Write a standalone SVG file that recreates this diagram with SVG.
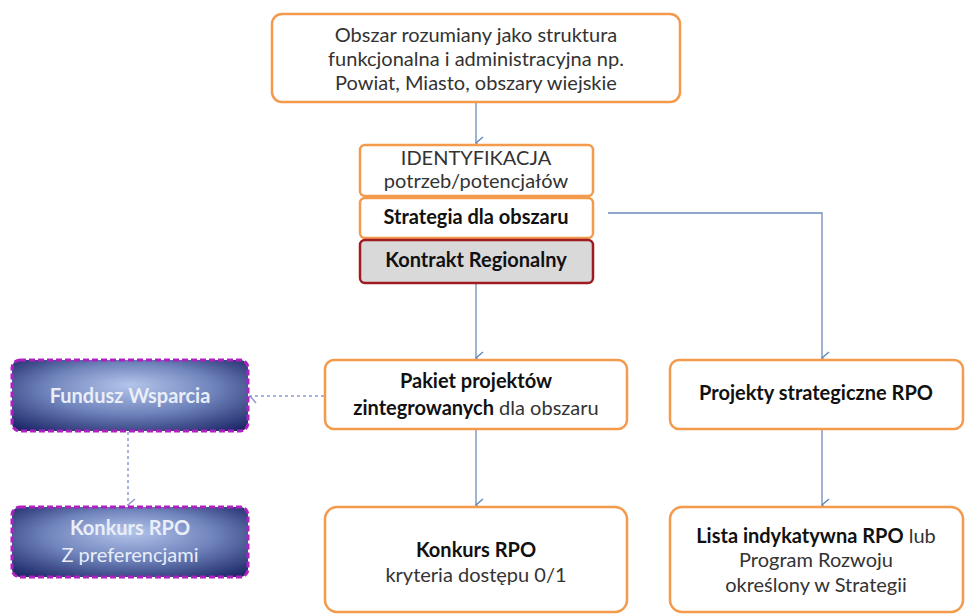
<svg xmlns="http://www.w3.org/2000/svg" width="965" height="615" viewBox="0 0 965 615">
<defs>
<style>
.box{fill:#fff;stroke:#f39a4c;stroke-width:2.5}
.kr{fill:#d9d9d9;stroke:#9e1b22;stroke-width:2.5}
.fw{fill:url(#g);stroke:#b020c0;stroke-width:3;stroke-dasharray:6,3}
.t{font-family:Lato,"Open Sans","Liberation Sans",sans-serif;font-size:20px;fill:#333;text-anchor:middle}
.b{font-weight:bold;fill:#111}
.w{fill:#e9eef8;font-weight:bold}
.wn{fill:#e9eef8}
.c{fill:none;stroke:#6a8cba;stroke-width:1.3}
.d{fill:none;stroke:#8e9bd3;stroke-width:1.5;stroke-dasharray:3,3}
</style>
<radialGradient id="g" cx="50%" cy="45%" r="70%" fx="50%" fy="35%">
<stop offset="0" stop-color="#b4c5ea"/>
<stop offset="0.5" stop-color="#7185bd"/>
<stop offset="1" stop-color="#1c2768"/>
</radialGradient>
<marker id="a" viewBox="0 0 14 14" refX="7" refY="13" markerWidth="14" markerHeight="14" markerUnits="userSpaceOnUse" orient="auto-start-reverse">
<path d="M1,6 L7,13 L13,6" fill="none" stroke="#6a8cba" stroke-width="1.5"/>
</marker>
<marker id="ad" viewBox="0 0 14 14" refX="7" refY="13" markerWidth="14" markerHeight="14" markerUnits="userSpaceOnUse" orient="auto">
<path d="M1,6 L7,13 L13,6" fill="none" stroke="#8e9bd3" stroke-width="1.5"/>
</marker>
</defs>
<rect width="965" height="615" fill="#fff"/>
<g id="connectors">
<path class="c" d="M476,103 V143" marker-end="url(#a)"/>
<path class="c" d="M608,213 H822 V358" marker-end="url(#a)"/>
<path class="c" d="M476,284 V358" marker-end="url(#a)"/>
<path class="c" d="M476,430 V505" marker-end="url(#a)"/>
<path class="c" d="M822,430 V505" marker-end="url(#a)"/>
<path class="d" d="M324,396 H250" marker-end="url(#ad)"/>
<path class="d" d="M128,432 V505" marker-end="url(#ad)"/>
</g>
<g id="obszar">
<rect class="box" x="272" y="14" width="408" height="88" rx="10"/>
<text class="t" x="476" y="42">Obszar rozumiany jako struktura</text>
<text class="t" x="476" y="66">funkcjonalna i administracyjna np.</text>
<text class="t" x="476" y="90">Powiat, Miasto, obszary wiejskie</text>
</g>
<g id="identyfikacja">
<rect class="box" x="360" y="145" width="233" height="51" rx="5"/>
<text class="t" x="476" y="165">IDENTYFIKACJA</text>
<text class="t" x="476" y="188">potrzeb/potencjałów</text>
</g>
<g id="strategia">
<rect class="box" x="360" y="198" width="233" height="40" rx="5"/>
<text class="t b" x="476" y="224">Strategia dla obszaru</text>
</g>
<g id="kontrakt">
<rect class="kr" x="360" y="240" width="233" height="43" rx="5"/>
<text class="t b" x="476" y="267">Kontrakt Regionalny</text>
</g>
<g id="fundusz">
<rect class="fw" x="12" y="360" width="236" height="71" rx="8"/>
<text class="t w" x="130" y="403">Fundusz Wsparcia</text>
</g>
<g id="konkurs-pref">
<rect class="fw" x="12" y="507" width="236" height="70" rx="8"/>
<text class="t w" x="130" y="535">Konkurs RPO</text>
<text class="t wn" x="130" y="562">Z preferencjami</text>
</g>
<g id="pakiet">
<rect class="box" x="325" y="360" width="302" height="69" rx="9"/>
<text class="t b" x="476" y="388">Pakiet projektów</text>
<text class="t" x="476" y="415"><tspan class="b">zintegrowanych</tspan> dla obszaru</text>
</g>
<g id="projekty">
<rect class="box" x="670" y="360" width="293" height="69" rx="9"/>
<text class="t b" x="816" y="400">Projekty strategiczne RPO</text>
</g>
<g id="konkurs">
<rect class="box" x="325" y="507" width="302" height="105" rx="12"/>
<text class="t b" x="476" y="557">Konkurs RPO</text>
<text class="t" x="476" y="582">kryteria dostępu 0/1</text>
</g>
<g id="lista">
<rect class="box" x="670" y="507" width="293" height="105" rx="12"/>
<text class="t" x="816" y="543"><tspan class="b">Lista indykatywna RPO</tspan> lub</text>
<text class="t" x="816" y="567">Program Rozwoju</text>
<text class="t" x="816" y="592">określony w Strategii</text>
</g>
</svg>
